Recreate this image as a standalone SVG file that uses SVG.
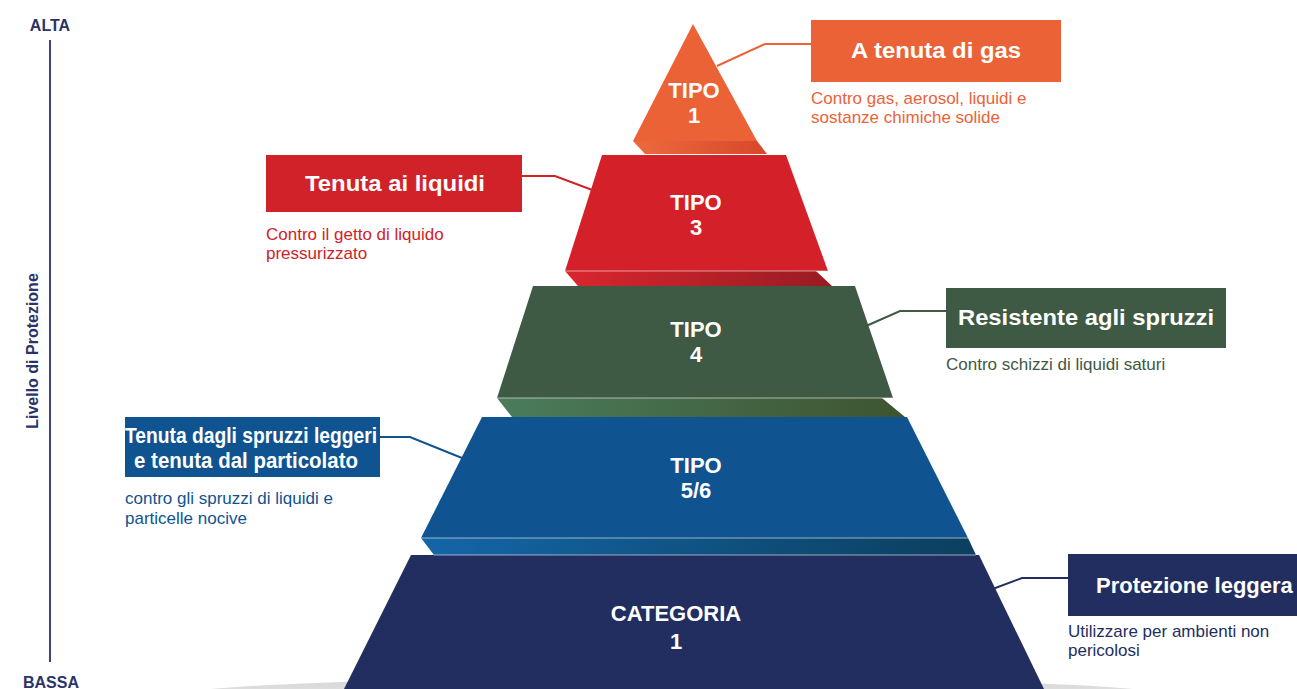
<svg xmlns="http://www.w3.org/2000/svg" width="1297" height="689" viewBox="0 0 1297 689">
<defs>
<style>
.t{font-family:"Liberation Sans",Arial,sans-serif;font-weight:bold;fill:#fff;text-anchor:middle;font-size:22px}
.lbl{font-family:"Liberation Sans",Arial,sans-serif;font-weight:bold;fill:#fff;text-anchor:middle;font-size:22px}
.sub{font-family:"Liberation Sans",Arial,sans-serif;font-size:17px}
.ax{font-family:"Liberation Sans",Arial,sans-serif;font-weight:bold;fill:#2a3468;font-size:16px;text-anchor:middle}
.hl{stroke:#f4f4f4;stroke-opacity:0.6;stroke-width:1}
</style>
<linearGradient id="gO" x1="0" x2="1"><stop offset="0" stop-color="#ec6a3d"/><stop offset="1" stop-color="#d8482a"/></linearGradient>
<linearGradient id="gR" x1="0" x2="1"><stop offset="0" stop-color="#d9262e"/><stop offset="1" stop-color="#991b22"/></linearGradient>
<linearGradient id="gG" x1="0" x2="1"><stop offset="0" stop-color="#4a7c5c"/><stop offset="1" stop-color="#3e5430"/></linearGradient>
<linearGradient id="gB" x1="0" x2="1"><stop offset="0" stop-color="#1466a8"/><stop offset="1" stop-color="#0b3f5e"/></linearGradient>
<linearGradient id="gS" x1="0" x2="0" y1="0" y2="1"><stop offset="0" stop-color="#d6d6d6"/><stop offset="1" stop-color="#eeeeee"/></linearGradient>
</defs>
<rect width="1297" height="689" fill="#fff"/>

<g id="axis">
<line x1="50" y1="40" x2="50" y2="662" stroke="#3b4680" stroke-width="2"/>
<text class="ax" x="50" y="31">ALTA</text>
<text class="ax" x="51" y="688">BASSA</text>
<text class="ax" font-size="14.3" transform="translate(38 351) rotate(-90)">Livello di Protezione</text>
</g>

<ellipse id="shadow" cx="672" cy="699" rx="520" ry="22" fill="url(#gS)"/>

<g id="tier-cat1">
<polygon points="411,555 979,555 1044,689 344,689" fill="#232e60"/>
<text class="t" x="676" y="621">CATEGORIA</text>
<text class="t" x="676" y="649">1</text>
</g>
<g id="tier-tipo56">
<polygon points="421,538 968,538 976,555 434,555" fill="url(#gB)"/>
<line class="hl" x1="434" y1="555" x2="976" y2="555"/>
<polygon points="482,417 907,417 968,538 421,538" fill="#0f5490"/>
<line class="hl" x1="421" y1="538" x2="968" y2="538"/>
<text class="t" x="696" y="473">TIPO</text>
<text class="t" x="696" y="498">5/6</text>
</g>
<g id="tier-tipo4">
<polygon points="497,398 882,398 905,417 512,417" fill="url(#gG)"/>
<polygon points="533,286 855,286 893,398 497,398" fill="#3e5944"/>
<line class="hl" x1="497" y1="398" x2="893" y2="398"/>
<text class="t" x="696" y="337">TIPO</text>
<text class="t" x="696" y="362">4</text>
</g>
<g id="tier-tipo3">
<polygon points="565,271 816,271 832,286 578,286" fill="url(#gR)"/>
<polygon points="602,155 786,155 828,271 565,271" fill="#d42129"/>
<line class="hl" x1="565" y1="271" x2="828" y2="271"/>
<text class="t" x="696" y="210">TIPO</text>
<text class="t" x="696" y="235">3</text>
</g>
<g id="tier-tipo1">
<polygon points="633,141 757,141 767,154 645,154" fill="url(#gO)"/>
<polygon points="693,24 757,141 633,141" fill="#ec6237"/>
<text class="t" x="694" y="98">TIPO</text>
<text class="t" x="694" y="123">1</text>
</g>

<g id="connectors" fill="none" stroke-width="2">
<polyline points="717,66 765,44 811,44" stroke="#ec6237"/>
<polyline points="522,176 555,176 603,194" stroke="#d12229"/>
<polyline points="857,330 900,311 946,311" stroke="#3e5944"/>
<polyline points="380,437 410,437 462,458" stroke="#0f5490"/>
<polyline points="990,590 1022,578 1068,578" stroke="#232e60"/>
</g>

<g id="label-gas">
<rect x="811" y="20" width="250" height="62" fill="#ec6237"/>
<text class="lbl" x="936" y="58" textLength="170" lengthAdjust="spacingAndGlyphs">A tenuta di gas</text>
<text class="sub" fill="#ec6237" x="811" y="104">Contro gas, aerosol, liquidi e</text>
<text class="sub" fill="#ec6237" x="811" y="123">sostanze chimiche solide</text>
</g>
<g id="label-liquidi">
<rect x="266" y="155" width="256" height="57" fill="#d12229"/>
<text class="lbl" x="395" y="191" textLength="180" lengthAdjust="spacingAndGlyphs">Tenuta ai liquidi</text>
<text class="sub" fill="#d12229" x="266" y="240">Contro il getto di liquido</text>
<text class="sub" fill="#d12229" x="266" y="259">pressurizzato</text>
</g>
<g id="label-spruzzi">
<rect x="946" y="288" width="280" height="60" fill="#3e5944"/>
<text class="lbl" x="1086" y="325" textLength="256" lengthAdjust="spacingAndGlyphs">Resistente agli spruzzi</text>
<text class="sub" fill="#3e5944" x="946" y="370">Contro schizzi di liquidi saturi</text>
</g>
<g id="label-particolato">
<rect x="125" y="417" width="255" height="60" fill="#0f5490"/>
<text class="lbl" font-size="18.5" x="251" y="443" textLength="252" lengthAdjust="spacingAndGlyphs">Tenuta dagli spruzzi leggeri</text>
<text class="lbl" font-size="18.5" x="246" y="468" textLength="224" lengthAdjust="spacingAndGlyphs">e tenuta dal particolato</text>
<text class="sub" fill="#0f5490" x="125" y="504">contro gli spruzzi di liquidi e</text>
<text class="sub" fill="#0f5490" x="125" y="524">particelle nocive</text>
</g>
<g id="label-leggera">
<rect x="1068" y="554" width="229" height="62" fill="#232e60"/>
<text class="lbl" x="1096" y="593" style="text-anchor:start">Protezione leggera</text>
<text class="sub" fill="#232e60" x="1068" y="637">Utilizzare per ambienti non</text>
<text class="sub" fill="#232e60" x="1068" y="656">pericolosi</text>
</g>
</svg>
